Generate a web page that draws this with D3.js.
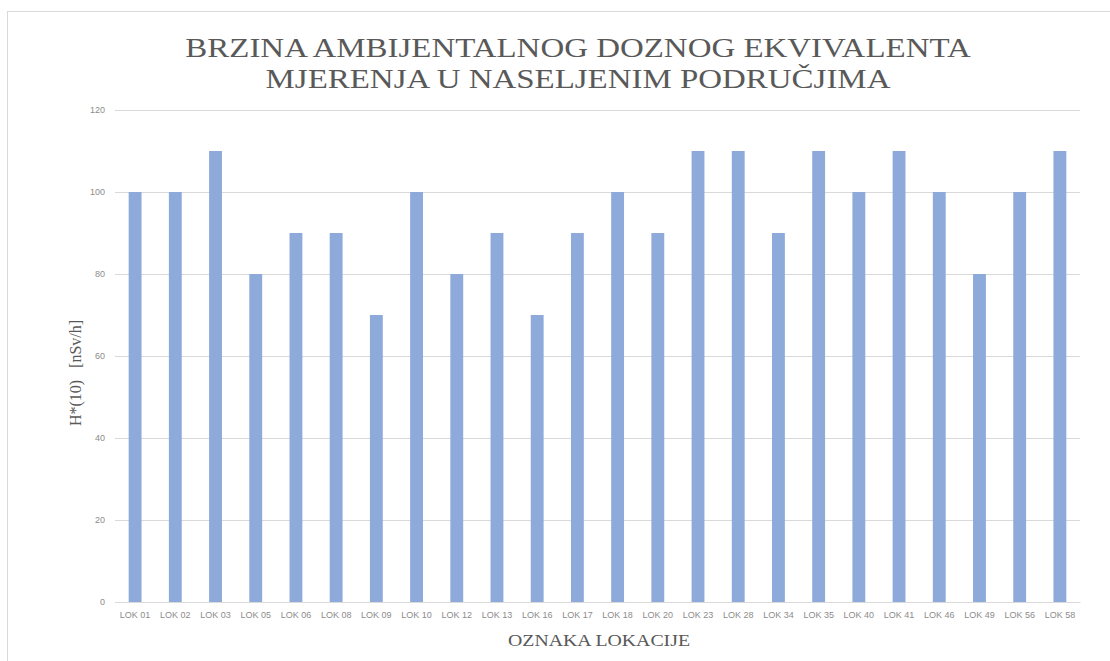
<!DOCTYPE html>
<html>
<head>
<meta charset="utf-8">
<script src="https://cdn.jsdelivr.net/npm/d3@7"></script>
<style>
  html, body { margin: 0; padding: 0; background: #ffffff; }
  svg { display: block; }
  .serif { font-family: "Liberation Serif", "Times New Roman", Times, serif; }
  .sans { font-family: "Liberation Sans", Arial, sans-serif; }
</style>
</head>
<body>
<svg id="chart" width="1110" height="661"></svg>
<script>
const categories = ["LOK 01","LOK 02","LOK 03","LOK 05","LOK 06","LOK 08","LOK 09","LOK 10","LOK 12","LOK 13","LOK 16","LOK 17","LOK 18","LOK 20","LOK 23","LOK 28","LOK 34","LOK 35","LOK 40","LOK 41","LOK 46","LOK 49","LOK 56","LOK 58"];
const values = [100,100,110,80,90,90,70,100,80,90,70,90,100,90,110,110,90,110,100,110,100,80,100,110];
const yTicks = [0,20,40,60,80,100,120];
const titleLines = ["BRZINA AMBIJENTALNOG DOZNOG EKVIVALENTA", "MJERENJA U NASELJENIM PODRUČJIMA"];
const yTitle = "H*(10)   [nSv/h]";
const xTitle = "OZNAKA LOKACIJE";

const svg = d3.select("#chart");
const W = 1110, H = 661;
const plot = { left: 115, right: 1080, top: 110, bottom: 602 };
const stretch = 1.22;

svg.append("rect")
  .attr("x", 7.5).attr("y", 11.5)
  .attr("width", W + 20).attr("height", H + 20)
  .attr("fill", "none").attr("stroke", "#d9d9d9").attr("stroke-width", 1);

const x = d3.scaleBand().domain(categories).range([plot.left, plot.right]).paddingInner(0.68).paddingOuter(0.34);
const y = d3.scaleLinear().domain([0, 120]).range([plot.bottom, plot.top]);

const yAxis = d3.axisLeft(y).tickValues(yTicks).tickSize(-(plot.right - plot.left)).tickPadding(10);
const gy = svg.append("g").attr("transform", `translate(${plot.left},0)`).call(yAxis);
gy.select(".domain").remove();
gy.selectAll(".tick line").attr("stroke", "#d9d9d9").attr("stroke-width", 1);
gy.selectAll(".tick text")
  .attr("class", "sans")
  .attr("fill", "#8c8c8c")
  .attr("font-size", 9);

svg.append("g").selectAll("rect").data(values).join("rect")
  .attr("x", (d, i) => x(categories[i]))
  .attr("y", d => y(d))
  .attr("width", x.bandwidth())
  .attr("height", d => y(0) - y(d))
  .attr("fill", "#8eaadb");

const xAxis = d3.axisBottom(x).tickSize(0).tickPadding(10);
const gx = svg.append("g").attr("transform", `translate(0,${plot.bottom})`).call(xAxis);
gx.select(".domain").attr("stroke", "#d9d9d9");
gx.selectAll(".tick text")
  .attr("class", "sans")
  .attr("fill", "#8c8c8c")
  .attr("font-size", 9);

const title = svg.append("text")
  .attr("class", "serif")
  .attr("transform", `translate(578,0) scale(${stretch},1)`)
  .attr("text-anchor", "middle")
  .attr("fill", "#595959")
  .attr("font-size", 27);
titleLines.forEach((t, i) => {
  title.append("tspan").attr("x", 0).attr("y", 57 + i * 31).text(t);
});

svg.append("text")
  .attr("class", "serif")
  .attr("transform", `translate(81,373) rotate(-90)`)
  .attr("text-anchor", "middle")
  .attr("fill", "#595959")
  .attr("font-size", 16)
  .attr("xml:space", "preserve")
  .style("white-space", "pre")
  .text(yTitle);

svg.append("text")
  .attr("class", "serif")
  .attr("transform", `translate(599,646) scale(1.2,1)`)
  .attr("text-anchor", "middle")
  .attr("fill", "#595959")
  .attr("font-size", 16.5)
  .text(xTitle);
</script>
</body>
</html>
